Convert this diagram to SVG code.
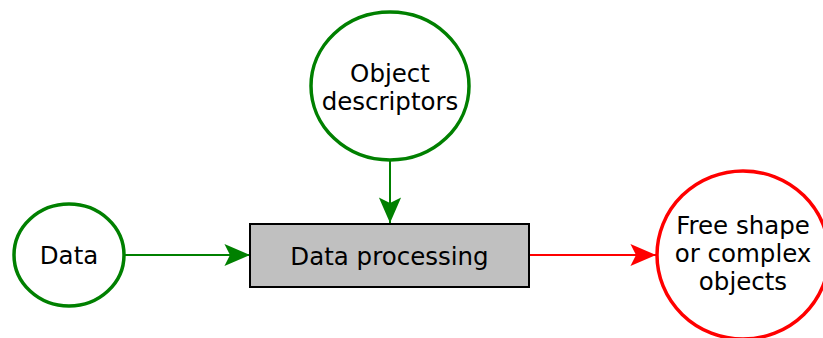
<svg xmlns="http://www.w3.org/2000/svg" width="823" height="338" viewBox="0 0 823 338">
<style>
.lbl{font-family:"DejaVu Sans",sans-serif;font-size:24.5px;fill:#000;text-anchor:middle}
.gnode{fill:#fff;stroke:#008000;stroke-width:3.5}
.rnode{fill:#fff;stroke:#ff0000;stroke-width:3.5}
.gedge{stroke:#008000;stroke-width:2;fill:none}
.redge{stroke:#ff0000;stroke-width:2;fill:none}
</style>
<defs>
<marker id="ag" markerUnits="userSpaceOnUse" markerWidth="30" markerHeight="30" viewBox="-25 -12 27 24" refX="0" refY="0" orient="auto">
<path d="M0,0 L-23,-10 L-18,0 L-23,10 Z" fill="#008000"/>
</marker>
<marker id="ar" markerUnits="userSpaceOnUse" markerWidth="30" markerHeight="30" viewBox="-25 -12 27 24" refX="0" refY="0" orient="auto">
<path d="M0,0 L-23,-10 L-18,0 L-23,10 Z" fill="#ff0000"/>
</marker>
</defs>
<g id="connectors">
<path class="gedge" d="M125,255 L250,255" marker-end="url(#ag)"/>
<path class="gedge" d="M390,160 L390,223" marker-end="url(#ag)"/>
<path class="redge" d="M529,255 L656,255" marker-end="url(#ar)"/>
</g>
<g id="data">
<ellipse class="gnode" cx="69" cy="255" rx="55" ry="51"/>
<text class="lbl" x="69" y="264">Data</text>
</g>
<g id="descriptors">
<ellipse class="gnode" cx="390" cy="86" rx="79" ry="74"/>
<text class="lbl" x="390" y="82">Object</text>
<text class="lbl" x="390" y="110">descriptors</text>
</g>
<g id="processing">
<rect x="250" y="224" width="279" height="63" fill="#c0c0c0" stroke="#000" stroke-width="2"/>
<text class="lbl" x="389.5" y="265">Data processing</text>
</g>
<g id="output">
<ellipse class="rnode" cx="743" cy="255" rx="86" ry="84"/>
<text class="lbl" x="743" y="234">Free shape</text>
<text class="lbl" x="743" y="262">or complex</text>
<text class="lbl" x="743" y="290">objects</text>
</g>
</svg>
